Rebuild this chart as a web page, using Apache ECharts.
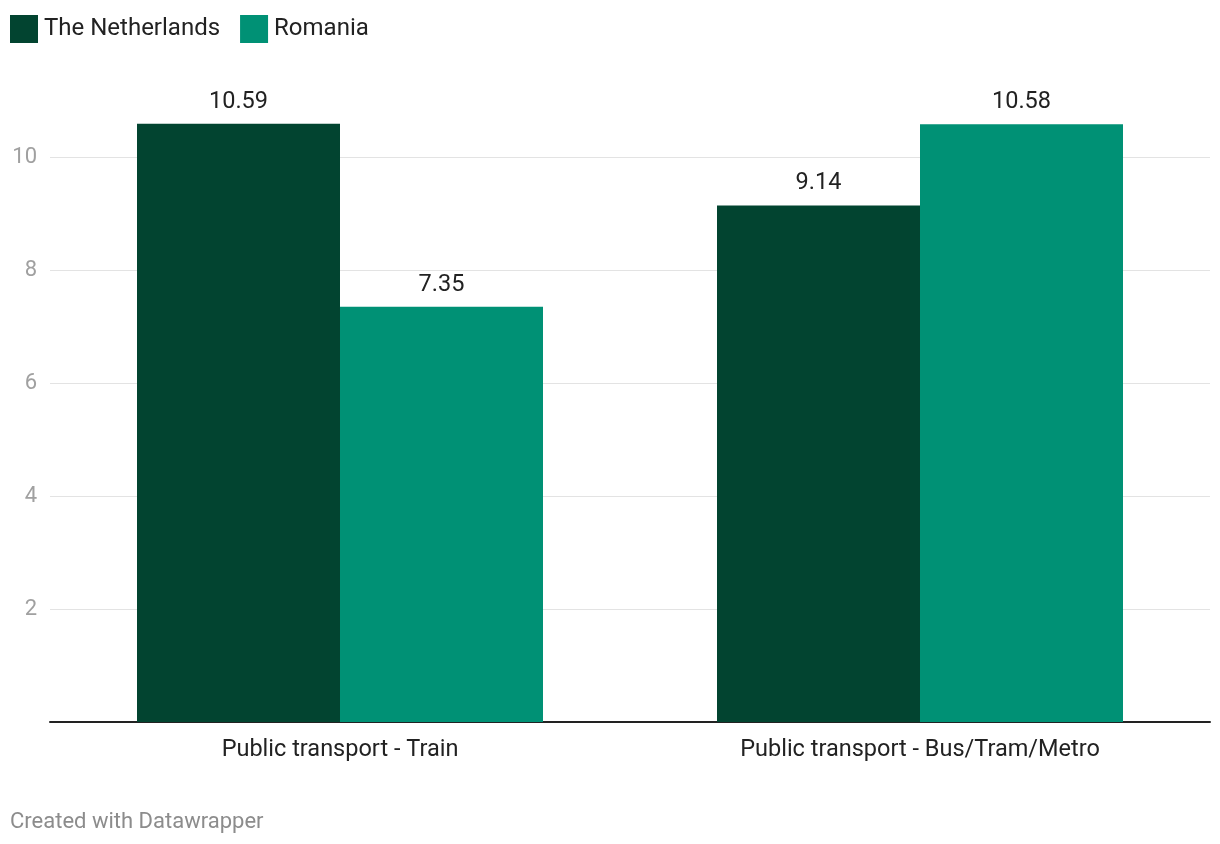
<!DOCTYPE html>
<html>
<head>
<meta charset="utf-8">
<script src="https://cdn.jsdelivr.net/npm/echarts@6/dist/echarts.min.js"></script>
<style>
  html, body { margin: 0; padding: 0; background: #fff; }
  #chart { width: 1220px; height: 844px; }
</style>
</head>
<body>
<div id="chart"></div>
<script>
// categories and values
var categories = ['Public transport - Train', 'Public transport - Bus/Tram/Metro'];
var netherlands = [10.59, 9.14];
var romania = [7.35, 10.58];

var chart = echarts.init(document.getElementById('chart'));

var option = {
    animation: false,
    textStyle: { fontFamily: 'Roboto' },
    legend: {
        left: 10,
        top: 15,
        padding: 0,
        itemWidth: 28,
        itemHeight: 28,
        itemGap: 20,
        icon: 'rect',
        textStyle: { fontSize: 24, color: '#222', padding: [0, 0, 0, 1] },
        data: ['The Netherlands', 'Romania']
    },
    graphic: [{
        type: 'text',
        left: 10,
        top: 811,
        style: { text: 'Created with Datawrapper', fontSize: 22, fill: '#8c8c8c', fontFamily: 'Roboto' }
    }],
    grid: { left: 50, right: 10, top: 44, bottom: 122 },
    xAxis: {
        type: 'category',
        data: categories,
        axisLine: { lineStyle: { color: '#222', width: 2 } },
        axisTick: { show: false },
        axisLabel: { fontSize: 23.5, color: '#222', margin: 16 }
    },
    yAxis: {
        type: 'value',
        min: 0,
        max: 12,
        interval: 2,
        axisLine: { show: false },
        axisTick: { show: false },
        axisLabel: {
            fontSize: 22,
            color: '#a0a0a0',
            margin: 13,
            formatter: function (v) { return (v === 0 || v === 12) ? '' : v; }
        },
        splitLine: {
            lineStyle: {
                color: ['#e3e3e3', '#e3e3e3', '#e3e3e3', '#e3e3e3', '#e3e3e3', '#e3e3e3', 'rgba(0,0,0,0)'],
                width: 1
            }
        }
    },
    series: [{
        name: 'The Netherlands',
        type: 'bar',
        data: netherlands,
        barGap: 0,
        barCategoryGap: '30%',
        itemStyle: { color: '#024430' },
        label: { show: true, position: 'top', distance: 10, fontSize: 23.5, color: '#222' }
    }, {
        name: 'Romania',
        type: 'bar',
        data: romania,
        itemStyle: { color: '#009175' },
        label: { show: true, position: 'top', distance: 10, fontSize: 23.5, color: '#222' }
    }]
};

chart.setOption(option);
</script>
</body>
</html>
